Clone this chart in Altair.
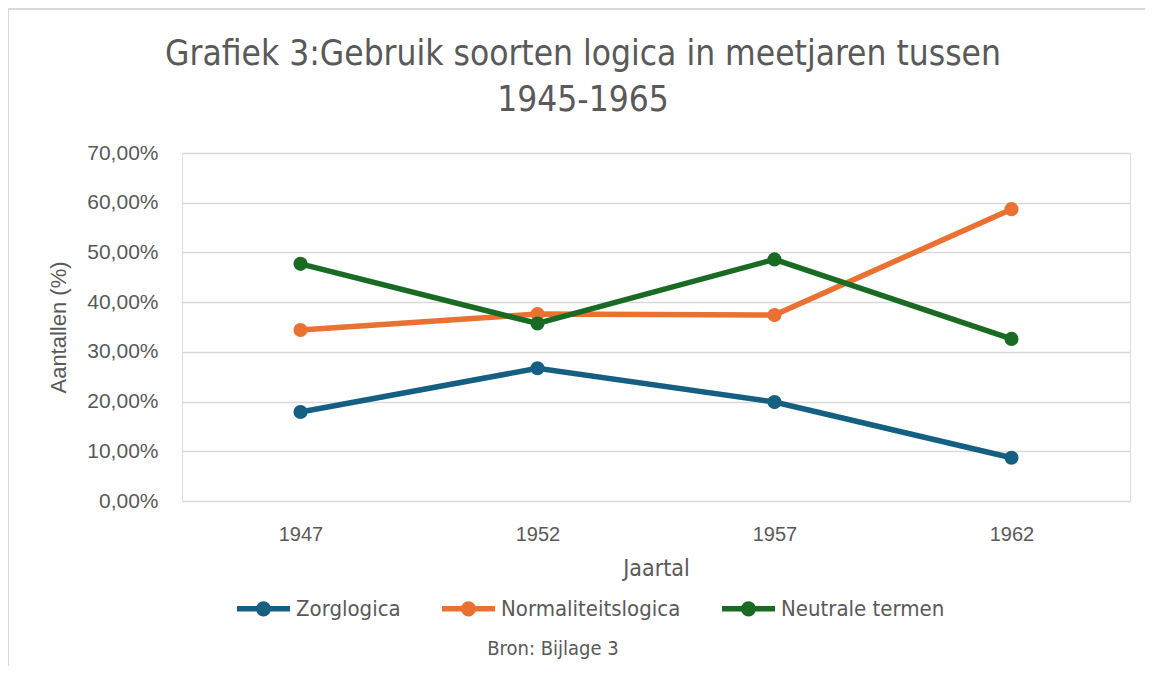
import altair as alt
import pandas as pd

years = ["1947", "1952", "1957", "1962"]
series = ["Zorglogica", "Normaliteitslogica", "Neutrale termen"]
zorg = [0.179, 0.267, 0.199, 0.087]
normaal = [0.344, 0.376, 0.374, 0.587]
neutraal = [0.477, 0.357, 0.486, 0.326]
colors = ["#156082", "#E97132", "#196B24"]
y_ticks = [0, 0.1, 0.2, 0.3, 0.4, 0.5, 0.6, 0.7]
title_lines = ["Grafiek 3:Gebruik soorten logica in meetjaren tussen", "1945-1965"]
source_text = "Bron: Bijlage 3"

rows = []
for name, vals in zip(series, [zorg, normaal, neutraal]):
    for yr, v in zip(years, vals):
        rows.append({"Jaar": yr, "Reeks": name, "Waarde": v})
df = pd.DataFrame(rows)

TXT = "#595959"
NARROW = "DejaVu Sans Condensed, Liberation Sans"
SANS = "Liberation Sans"

x_enc = alt.X("Jaar:O", sort=years,
              scale=alt.Scale(type="point", padding=0.5),
              axis=alt.Axis(title="Jaartal", labelAngle=0, domain=False, ticks=False,
                            labelPadding=23, labelFontSize=20, labelColor=TXT,
                            labelFont=SANS,
                            titleFontSize=23, titleColor=TXT, titleFont=NARROW,
                            titleFontWeight="normal", titlePadding=13))
y_enc = alt.Y("Waarde:Q", scale=alt.Scale(domain=[0, 0.7]),
              axis=alt.Axis(title="Aantallen  (%)", values=y_ticks,
                            labelExpr="replace(format(datum.value, '.2%'), '.', ',')",
                            domain=False, ticks=False, labelPadding=24,
                            labelFontSize=21, labelColor=TXT, labelFont=SANS,
                            gridColor="#d9d9d9", gridWidth=1.5,
                            titleFontSize=22, titleColor=TXT, titleFont=SANS,
                            titleFontWeight="normal", titlePadding=16))
# line with a dot, drawn by stroke only (two concentric circles give a solid dot)
sym = ("M-1,0 L1,0 "
       "M-0.094,0 A0.094,0.094 0 1,0 0.094,0 A0.094,0.094 0 1,0 -0.094,0 "
       "M-0.18,0 A0.18,0.18 0 1,0 0.18,0 A0.18,0.18 0 1,0 -0.18,0")
legend = alt.Legend(title=None, orient="none", direction="horizontal",
                    legendX=52, legendY=426, symbolType=sym,
                    symbolSize=2809, symbolStrokeWidth=5.5,
                    labelFontSize=22, labelColor=TXT, labelFont=NARROW,
                    labelOffset=3, columnPadding=30, labelLimit=0)
color_enc = alt.Color("Reeks:N", scale=alt.Scale(domain=series, range=colors),
                      sort=series, legend=legend)

lines = alt.Chart(df).mark_line(strokeWidth=5.5).encode(
    x=x_enc, y=y_enc, color=color_enc,
)

points = alt.Chart(df).mark_circle(size=200, opacity=1).encode(
    x=x_enc, y=y_enc, color=color_enc,
)

def text_layer(t, x, y, size, font):
    return alt.Chart(pd.DataFrame({"t": [t]})).mark_text(
        fontSize=size, color=TXT, font=font, align="center", baseline="middle"
    ).encode(text="t:N", x=alt.value(x), y=alt.value(y))

source = text_layer(source_text, 371, 496, 20, NARROW)
title1 = text_layer(title_lines[0], 401, -99, 35, NARROW)
title2 = text_layer(title_lines[1], 401, -53, 35, NARROW)

frame_top = alt.Chart(pd.DataFrame({"f": [1]})).mark_rule(color="#d9d9d9", strokeWidth=2).encode(
    x=alt.value(-175), x2=alt.value(975), y=alt.value(-144))
frame_left = alt.Chart(pd.DataFrame({"f": [1]})).mark_rule(color="#d9d9d9", strokeWidth=2).encode(
    x=alt.value(-174), y=alt.value(-145), y2=alt.value(525))

chart = alt.layer(frame_top, frame_left, lines, points, source, title1, title2).properties(
    width=948, height=348,
    autosize=alt.AutoSizeParams(type="none"),
    padding={"left": 174, "top": 145, "right": 15, "bottom": 165},
).configure_view(strokeWidth=0).configure(background="white")

chart.save("out.html", embed_options={"renderer": "svg", "actions": False})
